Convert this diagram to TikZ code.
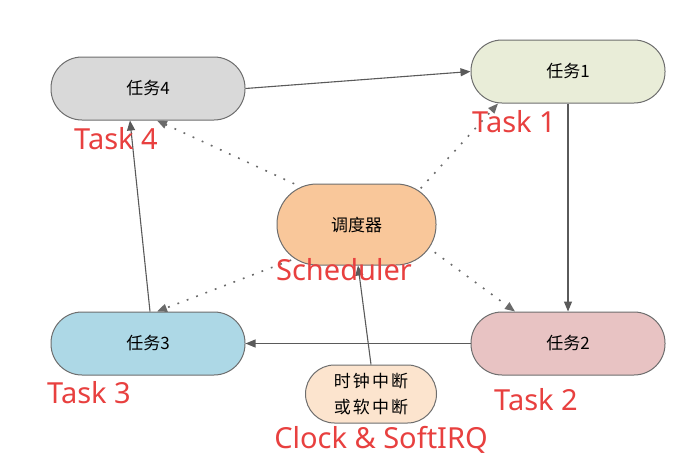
\documentclass[tikz,border=0pt]{standalone}
\usepackage{fontspec}
\setmainfont{Noto Sans}
\newfontfamily\cjk{Noto Sans CJK SC}
\usetikzlibrary{arrows.meta,calc,backgrounds}
\definecolor{nodeborder}{HTML}{6E6E6E}
\definecolor{linegray}{HTML}{5A5A5A}
\definecolor{dotgray}{HTML}{6A6A6A}
\definecolor{labelred}{HTML}{E8403F}
\definecolor{fillfour}{HTML}{D9D9D9}
\definecolor{fillone}{HTML}{E9EDD8}
\definecolor{fillsched}{HTML}{F9C79A}
\definecolor{fillthree}{HTML}{ADD8E6}
\definecolor{filltwo}{HTML}{E8C3C3}
\definecolor{fillclock}{HTML}{FCE4CE}
\begin{document}
\begin{tikzpicture}[x=1pt,y=-1pt,
  base/.style={draw=nodeborder, line width=1pt, inner sep=0pt},
  task/.style={base, rounded corners=31pt, minimum width=194pt, minimum height=63pt,
    font=\cjk\fontsize{17}{20}\selectfont},
  conn/.style={draw=linegray, line width=1.1pt, -{Triangle[length=10pt,width=8pt]}},
  dotconn/.style={draw=dotgray, line width=1.6pt, dash pattern=on 1.8pt off 8.2pt,
    -{Triangle[length=10pt,width=8pt]}},
  lab/.style={text=labelred, font=\fontsize{29}{34}\selectfont, anchor=base, inner sep=0pt}]
\useasboundingbox (0,0) rectangle (693,455);

\node[task, fill=fillfour] (t4) at (148,88.5) {任务4};
\node[task, fill=fillone] (t1) at (568,71.5) {任务1};
\node[task, fill=fillthree] (t3) at (148,343.5) {任务3};
\node[task, fill=filltwo] (t2) at (568,343.5) {任务2};
\node[base, fill=fillsched, rounded corners=40pt, minimum width=159pt, minimum height=81pt,
  font=\cjk\fontsize{17}{20}\selectfont] (s) at (356.5,224.5) {调度器};
\node[base, fill=fillclock, rounded corners=29pt, minimum width=131pt, minimum height=58pt,
  align=center, font=\cjk\fontsize{17}{26}\selectfont\addfontfeatures{LetterSpace=12}] (c) at (371,394) {时钟中断\\或软中断};

\begin{scope}[on background layer]
\fill[white] (0,0) rectangle (693,455);
\coordinate (sa) at ($(s.center)+(-26,-24)$);
\coordinate (sb) at ($(s.center)+(44,-14)$);
\coordinate (sc) at ($(s.center)+(-56,32)$);
\coordinate (sd) at ($(s.center)+(54,10)$);
\draw[dotconn] (sa) -- ($(t4.south)+(9,0)$);
\draw[dotconn] (sb) -- ($(t1.south)+(-70,0)$);
\draw[dotconn] (sc) -- ($(t3.north)+(9,0)$);
\draw[dotconn] (sd) -- ($(t2.north)+(-53,0)$);
\end{scope}

\draw[conn] (t4.east) -- (t1.west);
\draw[conn] (t1.south) -- (t2.north);
\draw[conn] (t2.west) -- (t3.east);
\draw[conn] ($(t3.north)+(2,0)$) -- ($(t4.south)+(-18,0)$);
\draw[conn] (c.north) -- ($(s.south)+(1.5,0)$);

\node[lab] (l4) at (116,149) {Task 4};
\node[lab] (l1) at (514,132) {Task 1};
\node[lab] (ls) at (344,280) {Scheduler};
\node[lab] (l3) at (89,403) {Task 3};
\node[lab] (l2) at (536,410) {Task 2};
\node[lab] (lc) at (381,448) {Clock \& SoftIRQ};
\end{tikzpicture}
\end{document}
